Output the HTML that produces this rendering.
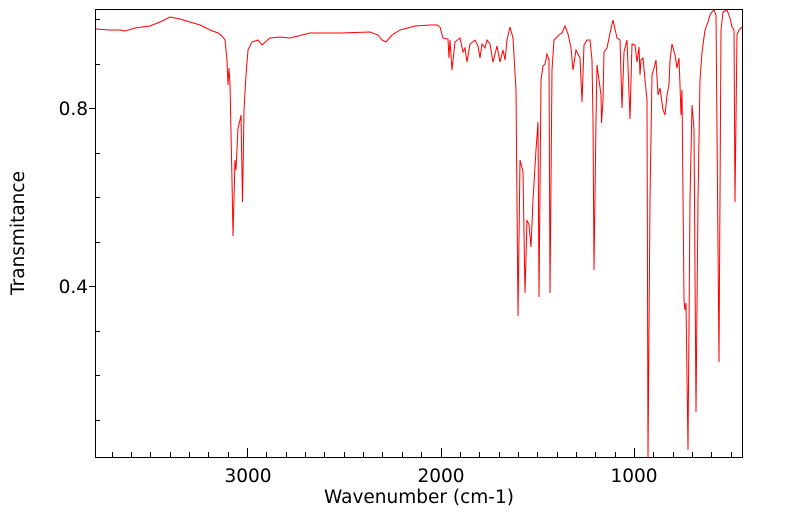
<!DOCTYPE html>
<html><head><meta charset="utf-8"><style>body{margin:0;background:#fff}svg{display:block}text{font-family:"DejaVu Sans",sans-serif;fill:#000}</style></head><body>
<svg width="799" height="516" viewBox="0 0 799 516">
<rect x="95.5" y="9.5" width="647" height="448" fill="none" stroke="#000" stroke-width="1"/>
<g stroke="#000" stroke-width="1" id="ticks"></g>
<polyline fill="none" stroke="#ff0000" stroke-width="1" points="
96,29 110,30 120,30 125,31 135,28 150,26 160,22 170,17 180,19 190,22 200,25 210,30 218,33 222,36 225,40 227,60 228,85 229,68 230,85 232,180 233,236 235,160 236,170 238,128 240,120 241,115 242.5,202 244,110 246,75 248,50 252,42 258,40 262,45 270,38 280,37 290,38 310,33 340,33 370,32 378,35 382,40 386,42 392,35 400,30 415,26 430,25 437,25 440,27 443,38 448,39 449,58 450,40 452,70 455,42 460,38 463,52 465,48 467,62 470,44 475,40 478,46 480,58 482,44 485,48 487,40 490,44 493,62 497,46 500,62 503,50 505,60 507,40 510,27 513,38 516,90 518,316 520,160 523,172 525,293 527,220 529,225 531,247 533,200 536,150 538,122 539,297 541,80 543,66 545,64 547,54 549,60 550,293 552,70 554,40 560,34 562,33 565,26 568,34 571,48 573,70 576,50 578,54 580,58 582,102 584,45 587,40 590,40 592,60 593,120 594,270 596,120 597,65 599,80 601,95 601.5,123 603,100 604,52 607,48 610,33 613,20 617,38 620,40 622,108 624,52 627,40 630,119 632,44 635,45 637,62 639,47 640,75 641,60 643,58 645,80 647,100 648,458 650,200 652,75 654,68 656,60 658,95 660,88 663,110 665,115 667,95 669,85 670,60 672,44 675,55 677,68 679,58 680,85 681,115 682,90 684,300 685,310 686,303 688,450 690,200 692,105 694,130 696,412 698,200 700,80 702,52 705,30 708,22 710,15 712,12 714,10 716,15 719,362 721,30 723,12 727,10 730,18 732,27 734,30 735,202 737,35 739,30 742,27"/>
<text x="88" y="115" font-size="18.5" text-anchor="end">0.8</text>
<text x="88" y="293" font-size="18.5" text-anchor="end">0.4</text>
<text x="248" y="482" font-size="18.5" text-anchor="middle">3000</text>
<text x="441" y="482" font-size="18.5" text-anchor="middle">2000</text>
<text x="634" y="482" font-size="18.5" text-anchor="middle">1000</text>
<text x="419" y="503" font-size="18.5" text-anchor="middle">Wavenumber (cm-1)</text>
<text x="0" y="0" font-size="18.5" text-anchor="middle" transform="translate(24,233) rotate(-90)">Transmitance</text>
</svg>
<script>
var g=document.getElementById('ticks'),s='';
for(var w=3700;w>=500;w-=100){var x=Math.round(634+(1000-w)*0.1935)+0.5;var L=(w%1000==0)?9:5;s+='<line x1="'+x+'" y1="457" x2="'+x+'" y2="'+(457-L)+'"/>';}
for(var k=-2;k<=7;k++){var y=Math.round(108+k*44.5)+0.5;if(y<10||y>457)continue;if(k==0||k==4)s+='<line x1="89" y1="'+y+'" x2="95" y2="'+y+'"/>';else s+='<line x1="95" y1="'+y+'" x2="100" y2="'+y+'"/>';}
g.innerHTML=s;
</script>
</body></html>
